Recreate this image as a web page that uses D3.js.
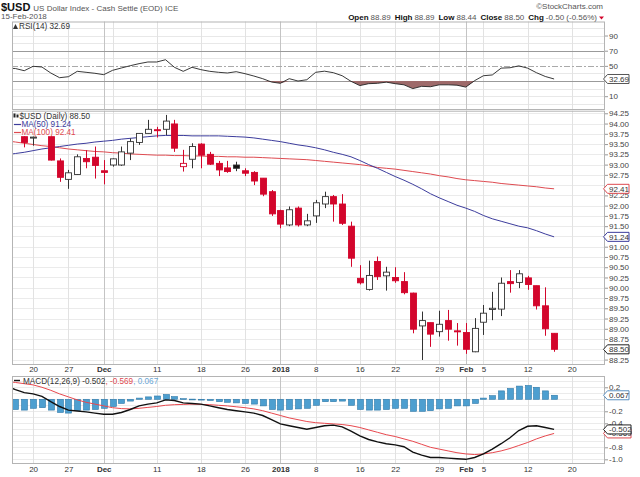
<!DOCTYPE html>
<html lang="en">
<head>
<meta charset="utf-8">
<title>$USD Daily</title>
<script src="https://d3js.org/d3.v7.min.js"></script>
<style>
body { margin: 0; background: #fff; }
svg text { font-family: "Liberation Sans", Arial, sans-serif; }
.legend { font-family: "DejaVu Sans Mono", monospace; font-size: 8.2px; }
.axis text { font-size: 8px; fill: #444; }
.axis line { stroke: #999; }
.xaxis text { font-size: 8px; fill: #333; }
</style>
</head>
<body>
<script>

// trading days shown (Nov 15 and 16 sit under the left edge / legend)
var dates = ["2017-11-15","2017-11-16","2017-11-17","2017-11-20","2017-11-21","2017-11-22","2017-11-24",
  "2017-11-27","2017-11-28","2017-11-29","2017-11-30","2017-12-01","2017-12-04","2017-12-05","2017-12-06",
  "2017-12-07","2017-12-08","2017-12-11","2017-12-12","2017-12-13","2017-12-14","2017-12-15","2017-12-18",
  "2017-12-19","2017-12-20","2017-12-21","2017-12-22","2017-12-26","2017-12-27","2017-12-28","2017-12-29",
  "2018-01-02","2018-01-03","2018-01-04","2018-01-05","2018-01-08","2018-01-09","2018-01-10","2018-01-11",
  "2018-01-12","2018-01-16","2018-01-17","2018-01-18","2018-01-19","2018-01-22","2018-01-23","2018-01-24",
  "2018-01-25","2018-01-26","2018-01-29","2018-01-30","2018-01-31","2018-02-01","2018-02-02","2018-02-05",
  "2018-02-06","2018-02-07","2018-02-08","2018-02-09","2018-02-12","2018-02-13","2018-02-14","2018-02-15"];

var opens  = [null,null,93.68,93.66,null,93.68,93.09,92.64,92.76,93.15,93.18,92.85,92.99,92.99,93.28,93.54,93.76,93.85,93.86,93.99,92.95,93.13,93.50,93.25,93.03,92.92,92.99,92.85,92.81,92.67,92.34,91.88,91.53,91.94,91.53,91.75,92.04,92.22,92.04,91.50,90.23,89.96,90.64,90.29,90.25,90.15,89.87,89.07,89.15,88.93,89.20,88.95,88.91,88.44,89.16,89.47,89.48,90.15,90.13,90.24,90.05,89.56,88.89];
var highs  = [null,null,93.69,93.68,null,93.70,93.15,92.87,93.25,93.35,93.44,93.11,93.15,93.44,93.64,93.76,94.09,93.92,94.21,94.09,93.36,93.52,93.52,93.31,93.09,93.09,93.07,92.91,92.84,92.67,92.38,91.90,91.98,91.98,91.80,92.14,92.34,92.26,92.28,91.61,90.55,90.66,90.76,90.51,90.50,90.38,89.88,89.42,89.15,89.44,89.46,89.14,89.14,89.26,89.58,89.90,90.25,90.43,90.43,90.29,90.05,90.01,88.89];
var lows   = [null,null,93.42,93.46,null,93.10,92.58,92.41,92.75,92.91,92.66,92.52,92.95,92.97,93.11,93.48,93.76,93.66,93.72,93.31,92.83,92.91,92.91,92.99,92.72,92.80,92.84,92.72,92.50,92.23,91.75,91.45,91.50,91.49,91.50,91.58,91.94,91.61,91.53,90.51,90.08,89.93,90.19,89.93,90.12,89.84,88.89,88.24,88.56,88.81,88.71,88.59,88.39,88.43,88.85,89.21,89.31,89.88,89.99,89.95,89.47,88.83,88.44];
var closes = [null,null,93.54,93.67,null,93.11,92.69,92.80,93.19,93.07,92.98,92.81,93.14,93.31,93.56,93.76,93.86,93.84,94.06,93.40,93.03,93.44,93.23,93.01,92.87,92.83,92.91,92.79,92.60,92.28,91.80,91.55,91.90,91.53,91.63,92.07,92.22,92.04,91.57,90.72,90.12,90.30,90.27,90.38,90.17,89.88,88.99,89.20,88.87,89.11,88.99,88.94,88.50,89.01,89.38,89.50,90.11,90.10,90.34,90.08,89.56,89.00,88.50];

var ma50  = [93.24,93.27,93.30,93.34,93.38,93.41,93.44,93.47,93.50,93.52,93.55,93.57,93.59,93.62,93.64,93.66,93.68,93.70,93.71,93.71,93.71,93.70,93.70,93.70,93.70,93.69,93.68,93.67,93.65,93.62,93.59,93.56,93.52,93.48,93.45,93.41,93.36,93.30,93.25,93.19,93.10,93.00,92.91,92.81,92.71,92.62,92.52,92.41,92.29,92.19,92.10,92.01,91.94,91.86,91.76,91.68,91.62,91.56,91.50,91.46,91.39,91.31,91.24];
var ma100 = [93.58,93.55,93.52,93.49,93.46,93.44,93.41,93.38,93.36,93.34,93.32,93.31,93.29,93.28,93.26,93.25,93.24,93.23,93.23,93.22,93.22,93.21,93.21,93.20,93.20,93.19,93.19,93.18,93.18,93.17,93.16,93.15,93.14,93.13,93.12,93.10,93.08,93.06,93.04,93.02,93.00,92.97,92.93,92.91,92.89,92.86,92.83,92.80,92.77,92.73,92.70,92.66,92.63,92.61,92.59,92.57,92.54,92.52,92.50,92.48,92.46,92.43,92.41];

var rsi = [47,46.5,43.6,49.4,48.5,40.6,34.4,35.7,42.8,41.5,40.2,38.4,44.1,47.2,50.2,52.9,55.1,55.1,58.1,48.1,42.8,48.1,45,42.8,41.5,40.6,42.3,39.7,36.6,33.1,28.7,27,33.1,30,31.7,41.5,43,41,37,29.6,24,26.5,27,28.5,26.5,25,20,23,22.5,25,25,24.5,22,30.5,37,38,47,47.5,50,47,41,36,32.69];

var macd   = [0.22,0.16,0.11,0.09,0.05,-0.04,-0.12,-0.18,-0.195,-0.21,-0.23,-0.25,-0.25,-0.22,-0.17,-0.11,-0.08,-0.06,-0.01,-0.02,-0.06,-0.07,-0.08,-0.11,-0.14,-0.17,-0.19,-0.21,-0.23,-0.27,-0.34,-0.41,-0.44,-0.47,-0.50,-0.47,-0.44,-0.43,-0.46,-0.53,-0.61,-0.67,-0.71,-0.74,-0.76,-0.79,-0.88,-0.93,-0.97,-0.97,-0.98,-0.99,-1.00,-0.97,-0.91,-0.83,-0.74,-0.64,-0.52,-0.45,-0.44,-0.47,-0.502];
var signal = [0.30,0.28,0.26,0.24,0.20,0.15,0.09,0.04,-0.01,-0.05,-0.08,-0.11,-0.14,-0.155,-0.16,-0.15,-0.135,-0.12,-0.10,-0.09,-0.085,-0.08,-0.085,-0.09,-0.10,-0.11,-0.125,-0.14,-0.16,-0.19,-0.23,-0.27,-0.31,-0.34,-0.37,-0.39,-0.40,-0.41,-0.42,-0.44,-0.47,-0.51,-0.55,-0.59,-0.62,-0.66,-0.70,-0.75,-0.80,-0.83,-0.86,-0.89,-0.91,-0.92,-0.91,-0.89,-0.86,-0.82,-0.77,-0.72,-0.66,-0.61,-0.569];
var hist   = [null,-0.17,-0.18,-0.15,-0.14,-0.18,-0.22,-0.23,-0.19,-0.18,-0.17,-0.15,-0.12,-0.07,-0.03,0.02,0.04,0.055,0.08,0.045,0.01,0.003,-0.005,-0.02,-0.04,-0.05,-0.06,-0.07,-0.08,-0.11,-0.17,-0.18,-0.17,-0.16,-0.15,-0.10,-0.04,-0.04,-0.03,-0.10,-0.17,-0.18,-0.18,-0.17,-0.15,-0.15,-0.20,-0.20,-0.19,-0.16,-0.15,-0.11,-0.11,-0.07,0.02,0.06,0.14,0.18,0.22,0.23,0.20,0.14,0.067];

// x axis: index of the day a gridline sits on (64 = Feb 20, a future slot)
var tickIdx    = [3,7,11,12,17,22,27,31,35,40,44,49,52,54,59,64];
var tickLabels = ["20","27","Dec","","11","18","26","2018","8","16","22","29","Feb","5","12","20"];
var monthIdx   = [11,31,52];

var priceTicks = [88.25,88.5,88.75,89,89.25,89.5,89.75,90,90.25,90.5,90.75,91,91.25,91.5,91.75,92,92.25,92.5,92.75,93,93.25,93.5,93.75,94,94.25];
var rsiTicks   = [90,70,50,30,10];
var macdTicks  = [0.2,0,-0.2,-0.4,-0.6,-0.8,-1.0];

var width = 640, height = 477;
var L = 12, R = 605;
var red = "#d3062c", blue50 = "#3c3c9c", red100 = "#de4a50", histFill = "#4d9fd0";

var svg = d3.select("body").append("svg")
  .attr("width", width).attr("height", height);

var x = d3.scaleLinear().domain([0, 62]).range([6.6, 554.1]);
var yR = d3.scaleLinear().domain([-8.2, 108.5]).range([110, 21.5]);
var yP = d3.scaleLinear().domain([88.118, 94.313]).range([365, 110.7]);
var yM = d3.scaleLinear().domain([-1.078, 0.388]).range([464, 376]);

var idx = d3.range(dates.length);
var last = dates.length - 1;

// clip paths for each panel
function clip(id, y0, y1) {
  svg.append("clipPath").attr("id", id).append("rect")
    .attr("x", L).attr("y", y0).attr("width", R - L).attr("height", y1 - y0);
}
clip("cR", 21.5, 110);
clip("cP", 110.7, 365);
clip("cM", 376, 464);

// vertical gridlines
function vgrid(y0, y1) {
  svg.append("g").selectAll("line").data(tickIdx).enter().append("line")
    .attr("x1", function(d) { return Math.round(x(d)) + 0.5; })
    .attr("x2", function(d) { return Math.round(x(d)) + 0.5; })
    .attr("y1", y0).attr("y2", y1)
    .attr("stroke", function(d) { return monthIdx.indexOf(d) >= 0 ? "#c4c4c4" : "#e2e2e2"; });
}
function hgrid(scale, vals, col) {
  svg.append("g").selectAll("line").data(vals).enter().append("line")
    .attr("x1", L).attr("x2", R)
    .attr("y1", function(d) { return Math.round(scale(d)) + 0.5; })
    .attr("y2", function(d) { return Math.round(scale(d)) + 0.5; })
    .attr("stroke", col);
}

// ---- RSI panel
hgrid(yR, [0,10,20,40,60,80,90,100], "#e8e8e8");
vgrid(21.5, 110);
hgrid(yR, [70,30], "#9a9a9a");
svg.append("line").attr("x1", L).attr("x2", R)
  .attr("y1", Math.round(yR(50)) + 0.5).attr("y2", Math.round(yR(50)) + 0.5)
  .attr("stroke", "#aaa").attr("stroke-dasharray", "6,2,2,2");

svg.append("path").datum(idx)
  .attr("clip-path", "url(#cR)")
  .attr("fill", "#9e6a6a")
  .attr("d", d3.area()
    .x(function(i) { return x(i); })
    .y0(yR(30))
    .y1(function(i) { return yR(Math.min(rsi[i], 30)); }));

svg.append("path").datum(idx)
  .attr("clip-path", "url(#cR)")
  .attr("fill", "none").attr("stroke", "#222").attr("stroke-width", 0.9)
  .attr("d", d3.line().x(function(i) { return x(i); }).y(function(i) { return yR(rsi[i]); }));

// ---- price panel
hgrid(yP, priceTicks, "#ebebeb");
vgrid(110.7, 365);

var lineMa = function(arr) {
  return d3.line().x(function(i) { return x(i); }).y(function(i) { return yP(arr[i]); });
};
svg.append("path").datum(idx).attr("clip-path", "url(#cP)")
  .attr("fill", "none").attr("stroke", red100).attr("stroke-width", 1)
  .attr("d", lineMa(ma100));
svg.append("path").datum(idx).attr("clip-path", "url(#cP)")
  .attr("fill", "none").attr("stroke", blue50).attr("stroke-width", 1)
  .attr("d", lineMa(ma50));

// candles: red when close < previous close, filled when close < open
var candles = [];
var lastClose = null;
idx.forEach(function(i) {
  if (closes[i] == null) return;
  var prev = lastClose == null ? opens[i] : lastClose;
  candles.push({ i: i, o: opens[i], h: highs[i], l: lows[i], c: closes[i],
    down: closes[i] < prev, filled: closes[i] < opens[i] });
  lastClose = closes[i];
});

var bw = 6;
var cg = svg.append("g").attr("clip-path", "url(#cP)")
  .selectAll("g").data(candles).enter().append("g");
cg.append("line")
  .attr("x1", function(d) { return Math.round(x(d.i)) + 0.5; })
  .attr("x2", function(d) { return Math.round(x(d.i)) + 0.5; })
  .attr("y1", function(d) { return yP(d.h); })
  .attr("y2", function(d) { return yP(d.l); })
  .attr("stroke", function(d) { return d.down ? red : "#333"; });
cg.append("rect")
  .attr("x", function(d) { return Math.round(x(d.i)) + 0.5 - bw / 2; })
  .attr("y", function(d) { return yP(Math.max(d.o, d.c)); })
  .attr("width", bw)
  .attr("height", function(d) { return Math.max(1, Math.abs(yP(d.o) - yP(d.c))); })
  .attr("fill", function(d) { return d.filled ? (d.down ? red : "#111") : "#fff"; })
  .attr("stroke", function(d) { return d.down ? red : "#333"; })
  .attr("stroke-width", 0.9);

// ---- MACD panel
hgrid(yM, d3.range(-10, 4).map(function(k) { return k / 10; }), "#ebebeb");
vgrid(376, 464);

svg.append("g").attr("clip-path", "url(#cM)")
  .selectAll("rect").data(idx.filter(function(i) { return hist[i] != null; }))
  .enter().append("rect")
  .attr("x", function(i) { return Math.round(x(i)) + 0.5 - 3; })
  .attr("y", function(i) { return yM(Math.max(0, hist[i])); })
  .attr("width", 6)
  .attr("height", function(i) { return Math.max(0.8, Math.abs(yM(hist[i]) - yM(0))); })
  .attr("fill", histFill).attr("stroke", "#2d78a8").attr("stroke-width", 0.6);

svg.append("path").datum(idx).attr("clip-path", "url(#cM)")
  .attr("fill", "none").attr("stroke", "#e8484e").attr("stroke-width", 1)
  .attr("d", d3.line().x(function(i) { return x(i); }).y(function(i) { return yM(signal[i]); }));
svg.append("path").datum(idx).attr("clip-path", "url(#cM)")
  .attr("fill", "none").attr("stroke", "#111").attr("stroke-width", 1.4)
  .attr("d", d3.line().x(function(i) { return x(i); }).y(function(i) { return yM(macd[i]); }));

// panel frames
[[21.5, 110], [110.7, 365], [376, 464]].forEach(function(p) {
  svg.append("rect").attr("x", L + 0.5).attr("y", p[0] + 0.5)
    .attr("width", R - L - 1).attr("height", p[1] - p[0] - 1)
    .attr("fill", "none").attr("stroke", "#b4b4b4");
});

// ---- value tags (last values) on the right edge; axis labels under them are hidden
var tags = [
  { y: yR(rsi[last]), txt: rsi[last].toFixed(2), col: "#555", w: 26 },
  { y: yP(ma100[last]), txt: ma100[last].toFixed(2), col: red100, w: 26 },
  { y: yP(ma50[last]), txt: ma50[last].toFixed(2), col: blue50, w: 26 },
  { y: yP(closes[last]), txt: closes[last].toFixed(2), col: "#222", w: 26 },
  { y: yM(hist[last]), txt: hist[last].toFixed(3), col: "#5a8fc0", w: 26 },
  { y: yM(signal[last]), txt: signal[last].toFixed(3), col: red100, w: 28 },
  { y: yM(macd[last]), txt: macd[last].toFixed(3), col: "#222", w: 28 }
];
function visible(scale, ticks) {
  return ticks.filter(function(t) {
    return tags.every(function(g) { return Math.abs(scale(t) - g.y) > 6; });
  });
}

// ---- axes
function rightAxis(scale, ticks, fmt) {
  var g = svg.append("g").attr("class", "axis")
    .attr("transform", "translate(" + R + ",0)")
    .call(d3.axisRight(scale).tickValues(visible(scale, ticks)).tickSize(3).tickPadding(1).tickFormat(fmt));
  g.select(".domain").remove();
}
rightAxis(yR, rsiTicks, function(d) { return d; });
rightAxis(yP, priceTicks, function(d) { return d.toFixed(2); });
rightAxis(yM, macdTicks, function(d) { return d.toFixed(1); });

function bottomAxis(y) {
  var g = svg.append("g").attr("class", "xaxis")
    .attr("transform", "translate(0," + y + ")")
    .call(d3.axisBottom(x).tickValues(tickIdx).tickSize(0).tickPadding(0)
      .tickFormat(function(d, i) { return tickLabels[i]; }));
  g.select(".domain").remove();
  g.selectAll(".tick text")
    .attr("font-weight", function(d) { return monthIdx.indexOf(d) >= 0 ? "bold" : "normal"; })
    .attr("fill", function(d) { return monthIdx.indexOf(d) >= 0 ? "#111" : "#444"; });
}
bottomAxis(366);
bottomAxis(466);

tags.forEach(function(t) {
  var g = svg.append("g").attr("transform", "translate(603," + t.y + ")");
  g.append("path").attr("d", "M0.5,0 L4.5,-4.5 L" + t.w + ",-4.5 L" + t.w + ",4.5 L4.5,4.5 Z")
    .attr("fill", "#fff").attr("stroke", t.col);
  g.append("text").attr("x", 6).attr("y", 3).attr("font-size", 8).attr("fill", "#333").text(t.txt);
});

// ---- header
var hd = svg.append("text").attr("x", 1).attr("y", 10.5);
hd.append("tspan").attr("font-size", 11).attr("font-weight", "bold").attr("fill", "#111").text("$USD");
hd.append("tspan").attr("dx", 3).attr("font-size", 8).attr("fill", "#555").text("US Dollar Index - Cash Settle (EOD) ICE");
svg.append("text").attr("x", 1).attr("y", 19).attr("font-size", 8).attr("fill", "#555").text("15-Feb-2018");
svg.append("text").attr("x", 603).attr("y", 9).attr("text-anchor", "end")
  .attr("font-size", 8).attr("fill", "#555").text("\u00a9StockCharts.com");

var ohlc = svg.append("text").attr("x", 597).attr("y", 19.5).attr("text-anchor", "end").attr("font-size", 8);
[["Open", "88.89"], ["High", "88.89"], ["Low", "88.44"], ["Close", "88.50"], ["Chg", "-0.50 (-0.56%)"]]
  .forEach(function(p, k) {
    ohlc.append("tspan").attr("font-weight", "bold").attr("fill", "#111").attr("dx", k ? 4 : 0).text(p[0]);
    ohlc.append("tspan").attr("fill", "#555").attr("dx", 2).text(p[1]);
  });
svg.append("path").attr("d", "M599,16.5 L604,16.5 L601.5,19.5 Z").attr("fill", red);

// ---- legends
var lg = svg.append("g").attr("class", "legend");
lg.append("path").attr("d", "M13,29 L15.5,24 L18,29 Z").attr("fill", "#333");
lg.append("text").attr("x", 19).attr("y", 29).attr("fill", "#333").text("RSI(14) 32.69");

lg.append("rect").attr("x", 13.5).attr("y", 113.5).attr("width", 2).attr("height", 4).attr("fill", "#222");
lg.append("rect").attr("x", 16.5).attr("y", 114.5).attr("width", 2).attr("height", 3).attr("fill", "#222");
lg.append("text").attr("x", 19.5).attr("y", 118.5).attr("fill", "#333").text("$USD (Daily) 88.50");
lg.append("line").attr("x1", 14).attr("x2", 21).attr("y1", 124.5).attr("y2", 124.5).attr("stroke", blue50).attr("stroke-width", 1.2);
lg.append("text").attr("x", 21.5).attr("y", 127).attr("fill", blue50).text("MA(50) 91.24");
lg.append("line").attr("x1", 14).attr("x2", 21).attr("y1", 132.5).attr("y2", 132.5).attr("stroke", red100).attr("stroke-width", 1.2);
lg.append("text").attr("x", 21.5).attr("y", 135.3).attr("fill", red100).text("MA(100) 92.41");

lg.append("line").attr("x1", 14).attr("x2", 20).attr("y1", 380.5).attr("y2", 380.5).attr("stroke", "#111").attr("stroke-width", 1.4);
var ml = lg.append("text").attr("x", 23).attr("y", 383.5);
ml.append("tspan").attr("fill", "#333").text("MACD(12,26,9) -0.502");
ml.append("tspan").attr("fill", red100).text(", -0.569");
ml.append("tspan").attr("fill", "#6aa6d6").text(", 0.067");

</script>
</body>
</html>
